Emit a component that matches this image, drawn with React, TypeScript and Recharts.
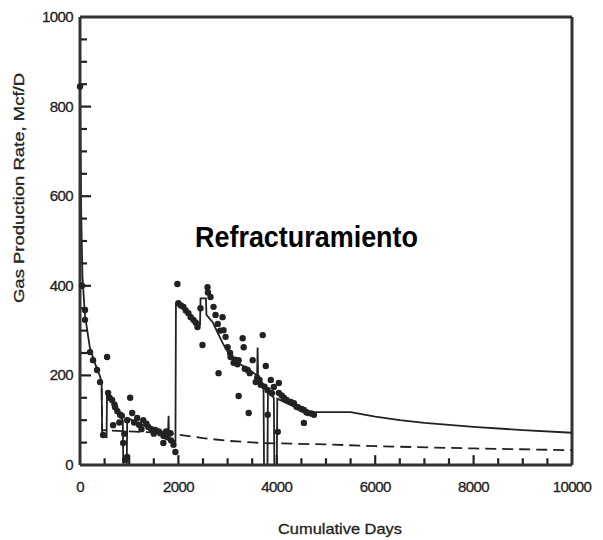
import { ComposedChart, Line, Scatter, XAxis, YAxis, ReferenceLine } from "recharts";

// measured production (days, Mcf/D)
const obsDays = [
  0, 40, 102, 102, 204, 265, 347, 408, 469, 551, 571, 600, 653, 673, 700, 714, 760, 800, 816, 850, 878, 900, 918,
  959, 959, 1020, 1061, 1100, 1163, 1200, 1250, 1286, 1350, 1388, 1450, 1500, 1531, 1600, 1633, 1694, 1700, 1750,
  1776, 1837, 1850, 1900, 1939,
  1980, 2000, 2050, 2102, 2150, 2204, 2250, 2306, 2350, 2388, 2449, 2490, 2592, 2600, 2653, 2714, 2755, 2800, 2816,
  2850, 2898, 2918, 2959, 3000, 3050, 3061, 3122, 3150, 3200, 3224, 3224, 3306, 3327, 3350, 3408, 3429, 3450, 3510,
  3571, 3600, 3650, 3673, 3714, 3750, 3776, 3816, 3816, 3878, 3900, 3939, 4020, 4041, 4041, 4100, 4143, 4200, 4286,
  4347, 4400, 4429, 4500, 4551, 4551, 4600, 4633, 4700, 4755,
];
const obsRates = [
  845, 400, 346, 324, 252, 234, 212, 185, 67, 241, 161, 150, 145, 89, 135, 129, 120, 95, 112, 110, 49, 70, 11,
  18, 100, 150, 116, 95, 105, 90, 80, 100, 92, 85, 80, 70, 78, 75, 71, 49, 65, 75,
  62, 71, 55, 45, 29,
  404, 361, 356, 353, 345, 339, 330, 324, 318, 308, 350, 268, 397, 385, 375, 353, 335, 315, 205,
  300, 330, 301, 286, 263, 250, 241, 228, 235, 225, 234, 154, 283, 263, 215, 212, 116, 205, 234,
  185, 195, 190, 179, 290, 175, 221, 167, 112, 190, 160, 174, 74, 183, 161, 155, 150, 145, 141,
  138, 130, 129, 125, 123, 94, 118, 116, 115, 112,
];

// history match + forecast after refrac (solid)
const simDays = [
  0, 25, 50, 100, 200, 300, 400, 440, 450, 540, 550, 650, 750, 870, 880, 950, 960, 1100, 1300, 1500, 1700, 1790,
  1800, 1810, 1940, 1950, 2100, 2300, 2440, 2450, 2560, 2570, 2700, 2900, 3100, 3300, 3600, 3610, 3620, 3730, 3740,
  3810, 3820, 3940, 3950, 4000, 4010, 4200, 4450, 4700, 5500, 6000, 6500, 7000, 8000, 9000, 10000,
];
const simRates = [
  850, 560, 420, 335, 262, 228, 200, 185, 65, 62, 165, 140, 120, 100, 0, 0, 105, 98, 88, 78, 70, 72,
  110, 58, 52, 360, 350, 328, 315, 372, 372, 335, 318, 272, 235, 222, 200, 262, 192, 178, 0,
  0, 165, 150, 0, 0, 148, 138, 125, 118, 118, 108, 100, 94, 85, 78, 72,
];

// decline without refrac (dashed)
const baseDays = [440, 450, 1000, 1800, 2500, 3000, 3700, 5000, 6000, 8000, 10000];
const baseRates = [170, 78, 75, 71, 60, 54, 49, 46, 42, 37, 33];

const xTicks = [0, 500, 1000, 1500, 2000, 2500, 3000, 3500, 4000, 4500, 5000, 5500, 6000, 6500, 7000, 7500, 8000, 8500, 9000, 9500, 10000];
const yTicks = [0, 50, 100, 150, 200, 250, 300, 350, 400, 450, 500, 550, 600, 650, 700, 750, 800, 850, 900, 950, 1000];

const obsData = obsDays.map((d, i) => ({ day: d, rate: obsRates[i] }));
const simData = simDays.map((d, i) => ({ day: d, rate: simRates[i] }));
const baseData = baseDays.map((d, i) => ({ day: d, rate: baseRates[i] }));

const FONT = '"Liberation Sans", Arial, sans-serif';
const INK = "#222";

// inner tick marks, lengths in data units (x ticks in Mcf/D, y ticks in days)
const innerX = xTicks.filter((v) => v > 0 && v < 10000);
const innerY = yTicks.filter((v) => v > 0 && v < 1000);

const XTick = (props: any) => {
  const { x, y, payload } = props;
  const v = Number(payload.value);
  if (v % 2000 !== 0) return <g />;
  return (
    <text x={x} y={y + 27} textAnchor="middle" fontFamily={FONT} fontSize={15} fill={INK} stroke={INK} strokeWidth={0.3} letterSpacing={-0.6}>
      {v}
    </text>
  );
};

const YTick = (props: any) => {
  const { x, y, payload } = props;
  const v = Number(payload.value);
  if (v % 200 !== 0) return <g />;
  return (
    <text x={x - 7} y={y + 5} textAnchor="end" fontFamily={FONT} fontSize={15} fill={INK} stroke={INK} strokeWidth={0.3} letterSpacing={-0.6}>
      {v}
    </text>
  );
};

const Dot = (props: any) => <circle cx={props.cx} cy={props.cy} r={3.2} fill={INK} />;

export default function App() {
  return (
    <ComposedChart width={595} height={532} margin={{ top: 9, right: 31, left: 12, bottom: 35 }}>
      <XAxis
        type="number"
        dataKey="day"
        domain={[0, 10000]}
        ticks={xTicks}
        interval={0}
        tickSize={0}
        tickMargin={0}
        tickLine={false}
        tick={<XTick />}
        height={40}
        axisLine={{ stroke: "#333", strokeWidth: 3 }}
      />
      <YAxis
        type="number"
        dataKey="rate"
        domain={[0, 1000]}
        ticks={yTicks}
        interval={0}
        tickSize={0}
        tickMargin={0}
        tickLine={false}
        tick={<YTick />}
        width={60}
        axisLine={{ stroke: "#333", strokeWidth: 3 }}
      />
      <ReferenceLine y={1000} stroke="#333" strokeWidth={3} />
      <ReferenceLine x={10000} stroke="#333" strokeWidth={3} />
      {innerX.map((v) => (
        <ReferenceLine
          key={`xt${v}`}
          segment={[{ x: v, y: 0 }, { x: v, y: v % 2000 === 0 ? 22 : 15 }]}
          stroke="#222"
          strokeWidth={2.2}
        />
      ))}
      {innerY.map((v) => (
        <ReferenceLine
          key={`yt${v}`}
          segment={[{ x: 0, y: v }, { x: v % 200 === 0 ? 225 : 143, y: v }]}
          stroke="#222"
          strokeWidth={2.2}
        />
      ))}
      <Line
        data={baseData}
        dataKey="rate"
        type="linear"
        stroke={INK}
        strokeWidth={1.8}
        strokeDasharray="11 6"
        dot={false}
        isAnimationActive={false}
      />
      <Line
        data={simData}
        dataKey="rate"
        type="linear"
        stroke={INK}
        strokeWidth={1.8}
        dot={false}
        isAnimationActive={false}
      />
      <Scatter data={obsData} dataKey="rate" shape={<Dot />} isAnimationActive={false} />
      <text x={187} y={239} fontFamily={FONT} fontWeight="bold" fontSize={30} fill="#000" textLength={223} lengthAdjust="spacingAndGlyphs">
        Refracturamiento
      </text>
      <text x={332} y={526} textAnchor="middle" fontFamily={FONT} fontSize={15} fill={INK} stroke={INK} strokeWidth={0.3} textLength={124} lengthAdjust="spacingAndGlyphs">
        Cumulative Days
      </text>
      <text
        x={16}
        y={180}
        transform="rotate(-90 16 180)"
        textAnchor="middle"
        fontFamily={FONT}
        fontSize={15}
        fill={INK}
        stroke={INK}
        strokeWidth={0.3}
        textLength={230}
        lengthAdjust="spacingAndGlyphs"
      >
        Gas Production Rate, Mcf/D
      </text>
    </ComposedChart>
  );
}
